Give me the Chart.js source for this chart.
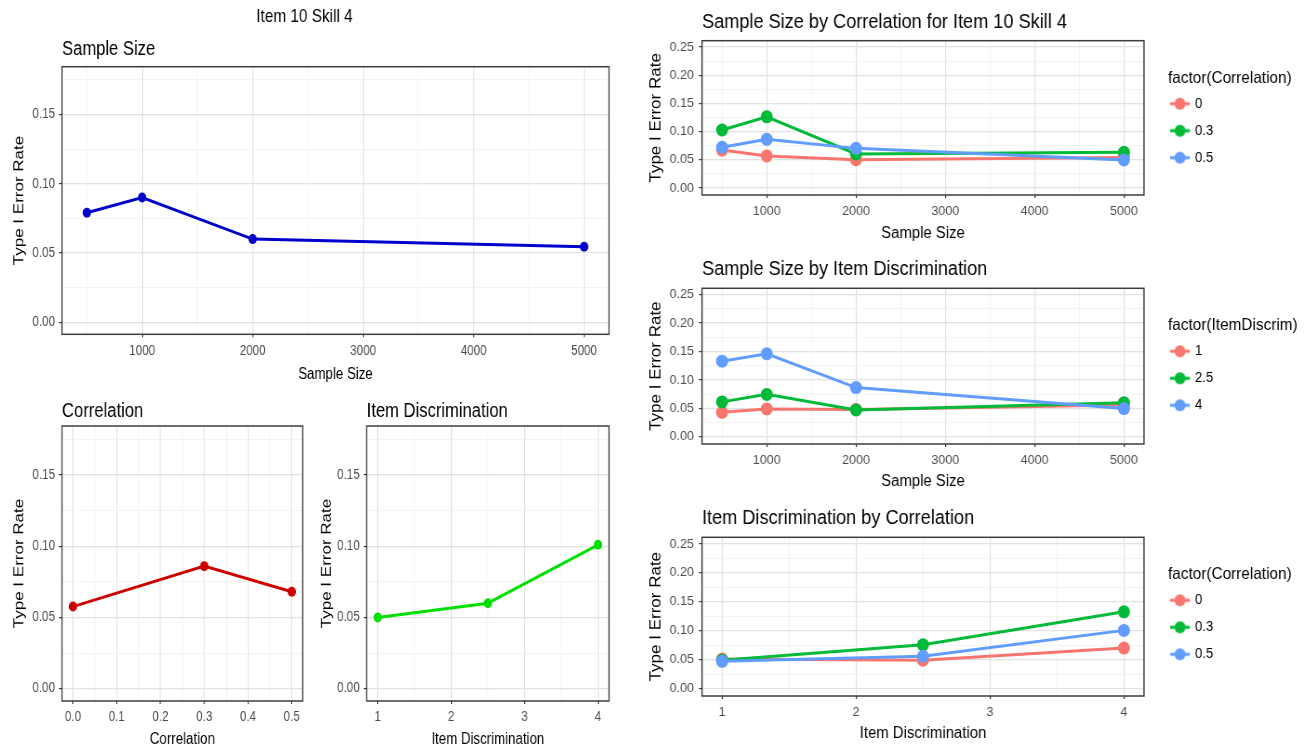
<!DOCTYPE html>
<html>
<head>
<meta charset="utf-8">
<title>Item 10 Skill 4 - Type I Error Rate</title>
<script src="https://cdn.jsdelivr.net/npm/chart.js@4.4.1/dist/chart.umd.min.js"></script>
<style>
  html, body { margin: 0; padding: 0; background: #fff; }
  #page { position: relative; width: 1305px; height: 750px; overflow: hidden; }
  #page canvas { position: absolute; }
</style>
</head>
<body>
<div id="page">
  <!-- backing stores are wider than the boxes: the plots are drawn slightly condensed -->
  <canvas id="sampleSize" width="754" height="390" style="left:0px;top:0px;width:626px;height:390px"></canvas>
  <canvas id="correlation" width="373" height="360" style="left:0px;top:390px;width:310px;height:360px"></canvas>
  <canvas id="itemDiscrim" width="381" height="360" style="left:310px;top:390px;width:316px;height:360px"></canvas>
  <canvas id="sizeByCorr" width="715" height="250" style="left:640px;top:0px;width:665px;height:250px"></canvas>
  <canvas id="sizeByDiscrim" width="715" height="250" style="left:640px;top:250px;width:665px;height:250px"></canvas>
  <canvas id="discrimByCorr" width="715" height="250" style="left:640px;top:500px;width:665px;height:250px"></canvas>
</div>
<script>
// design levels
const sampleSizes = [500, 1000, 2000, 5000];
const correlations = [0, 0.3, 0.5];
const itemDiscrims = [1, 2.5, 4];

// main effects on the Type I error rate
const errBySampleSize = [0.079, 0.090, 0.060, 0.0545];
const errByCorrelation = [0.0576, 0.086, 0.068];
const errByItemDiscrim = [0.050, 0.060, 0.101];

// sample size x correlation
const sizeCorr0 = [0.067, 0.0566, 0.050, 0.054];
const sizeCorr03 = [0.1026, 0.126, 0.060, 0.063];
const sizeCorr05 = [0.072, 0.086, 0.070, 0.0495];

// sample size x item discrimination
const sizeDiscrim1 = [0.043, 0.049, 0.048, 0.056];
const sizeDiscrim25 = [0.0613, 0.0745, 0.047, 0.060];
const sizeDiscrim4 = [0.133, 0.146, 0.0865, 0.0495];

// item discrimination x correlation
const discrimCorr0 = [0.051, 0.049, 0.070];
const discrimCorr03 = [0.049, 0.0756, 0.1326];
const discrimCorr05 = [0.047, 0.0558, 0.1005];

// labelled ticks and the minor grid lines between them
const sizeTicks = [1000, 2000, 3000, 4000, 5000];
const sizeMinor = [500, 1500, 2500, 3500, 4500];
const corrTicks = [0, 0.1, 0.2, 0.3, 0.4, 0.5];
const corrMinor = [0.05, 0.15, 0.25, 0.35, 0.45];
const discrimTicks = [1, 2, 3, 4];
const discrimMinor = [1.5, 2.5, 3.5];
const rateTicks = [0, 0.05, 0.10, 0.15];
const rateMinor = [0.025, 0.075, 0.125, 0.175];
const rateTicksWide = [0, 0.05, 0.10, 0.15, 0.20, 0.25];
const rateMinorWide = [0.025, 0.075, 0.125, 0.175, 0.225];

const FONT = "'Liberation Sans', Arial, sans-serif";
const RED = '#F8766D', GREEN = '#00BA38', BLUE = '#619CFF';

// dark frame around each plotting panel
const panelBox = {
  id: 'panelBox',
  afterDatasetsDraw(chart) {
    const a = chart.chartArea, g = chart.ctx;
    g.save();
    g.strokeStyle = '#3c3c3c';
    g.lineWidth = 1.5;
    g.strokeRect(a.left, a.top, a.right - a.left, a.bottom - a.top);
    g.restore();
  }
};
Chart.register(panelBox);

// keeps the legend in a fixed slot right of the panel
const legendSlot = {
  id: 'legendSlot',
  afterInit(chart, args, opts) {
    const lg = chart.legend;
    const fit = lg.fit;
    lg.fit = function () { fit.call(this); this.width = opts.reserve; };
  },
  afterLayout(chart, args, opts) {
    const lg = chart.legend;
    lg.left = chart.chartArea.right + opts.dx;
    lg.right = lg.left + 150;
    lg.top = chart.chartArea.top + opts.dy;
    lg.bottom = lg.top + 200;
  }
};

function tickList(main, minor) {
  return main.map(v => ({ value: v, main: true }))
    .concat(minor.map(v => ({ value: v, main: false })))
    .sort((a, b) => a.value - b.value);
}

// o.* sizes are in screen pixels; k is the horizontal squeeze of the canvas
function axis(o, k) {
  const ticks = tickList(o.main, o.minor);
  const horiz = o.position === 'bottom';
  const across = v => (horiz ? v : v / k);
  return {
    type: 'linear',
    position: o.position,
    bounds: 'data',
    min: o.min,
    max: o.max,
    afterBuildTicks: s => { s.ticks = ticks.map(t => ({ ...t })); },
    afterFit: s => { if (horiz) s.height = o.size; else s.width = o.size / k; },
    border: { display: false },
    grid: {
      color: c => (c.tick && c.tick.main ? '#E2E2E2' : '#F0F0F0'),
      lineWidth: c => (c.tick && c.tick.main ? 1.2 : 0.8),
      tickColor: c => (c.tick && c.tick.main ? '#333333' : 'rgba(0,0,0,0)'),
      tickLength: across(3),
      drawTicks: true
    },
    ticks: {
      autoSkip: false,
      maxRotation: 0,
      padding: across(o.tickPad),
      color: '#4D4D4D',
      font: { family: FONT, size: o.tickSize, lineHeight: 1.2 },
      callback: (v, i, all) => (all[i].main ? o.fmt(v) : '')
    },
    title: {
      display: true,
      text: o.title,
      color: '#000',
      font: { family: FONT, size: horiz ? 16 : 17, lineHeight: 1.2 },
      padding: horiz ? { top: 0, bottom: o.titlePad } : { top: o.titlePad / k, bottom: 0 }
    }
  };
}

function series(label, xs, ys, color, radius, order) {
  return {
    label: label,
    order: order,
    data: xs.map((x, i) => ({ x: x, y: ys[i] })),
    borderColor: color,
    backgroundColor: color,
    borderWidth: 3,
    pointRadius: radius,
    pointHoverRadius: radius,
    pointBorderWidth: 0,
    pointBackgroundColor: color,
    tension: 0,
    fill: false
  };
}

// line-and-dot key used in the legends (drawn off-centre so the key sits left of its slot)
function legendKey(color) {
  const c = document.createElement('canvas');
  c.width = 31;
  c.height = 14;
  const g = c.getContext('2d');
  g.strokeStyle = color;
  g.lineWidth = 3;
  g.beginPath(); g.moveTo(0, 7); g.lineTo(21.5, 7); g.stroke();
  g.fillStyle = color;
  g.beginPath(); g.arc(10.9, 7, 6, 0, Math.PI * 2); g.fill();
  return c;
}

function panelTitle(text, size, pt, pb) {
  return {
    display: true, text: text, align: 'start', fullSize: false, color: '#000',
    font: { family: FONT, size: size, weight: 'normal', lineHeight: 1.2 },
    padding: { top: pt, bottom: pb }
  };
}

function legendOpts(title) {
  return {
    display: true,
    position: 'right',
    align: 'start',
    title: {
      display: true, text: title, position: 'start', color: '#000',
      font: { family: FONT, size: 16.5, lineHeight: 1 },
      padding: { top: 0, bottom: -2.75 }
    },
    labels: {
      usePointStyle: true,
      pointStyleWidth: 9,
      padding: 13,
      color: '#000',
      font: { family: FONT, size: 14 },
      sort: (a, b) => a.datasetIndex - b.datasetIndex,
      generateLabels: chart => {
        const items = Chart.defaults.plugins.legend.labels.generateLabels(chart);
        items.forEach(it => { it.pointStyle = legendKey(chart.data.datasets[it.datasetIndex].borderColor); });
        return items;
      }
    }
  };
}

const fmt2 = v => v.toFixed(2);
const fmt1 = v => v.toFixed(1);
const fmt0 = v => String(v);

function makeChart(id, spec) {
  const canvas = document.getElementById(id);
  const k = parseFloat(canvas.style.width) / canvas.width;
  const plugins = Object.assign({ tooltip: { enabled: false }, legend: { display: false } }, spec.plugins);
  if (spec.slot) {
    plugins.legendSlot = { reserve: spec.slot.reserve / k, dx: spec.slot.dx / k, dy: spec.slot.dy };
  }
  return new Chart(canvas, {
    type: 'line',
    data: { datasets: spec.datasets },
    options: {
      responsive: false,
      animation: false,
      events: [],
      layout: { padding: { left: 0, top: 0, bottom: 0, right: (spec.padRight || 0) / k } },
      scales: { x: axis(spec.x, k), y: axis(spec.y, k) },
      plugins: plugins
    },
    plugins: spec.slot ? [legendSlot] : []
  });
}

const leftRate = { position: 'left', main: rateTicks, minor: rateMinor, min: -0.0087, max: 0.1844, fmt: fmt2, title: 'Type I Error Rate', tickSize: 14, tickPad: 4 };
const rightRate = { position: 'left', main: rateTicksWide, minor: rateMinorWide, min: -0.0128, max: 0.2612, fmt: fmt2, title: 'Type I Error Rate', tickSize: 13.5, tickPad: 5, size: 62, titlePad: 6.8 };

// overall sample size effect
makeChart('sampleSize', {
  datasets: [series('Sample Size', sampleSizes, errBySampleSize, '#0000CD', 5, 0)],
  x: { position: 'bottom', main: sizeTicks, minor: sizeMinor, min: 275, max: 5225, fmt: fmt0, title: 'Sample Size', tickSize: 14, size: 55.7, tickPad: 5, titlePad: 5.6 },
  y: Object.assign({}, leftRate, { size: 62, titlePad: 11 }),
  plugins: {
    title: { display: true, text: 'Item 10 Skill 4', align: 'center', color: '#000',
      font: { family: FONT, size: 18.5, weight: 'normal', lineHeight: 1.2 }, padding: { top: 5.9, bottom: 0 } },
    subtitle: panelTitle('Sample Size', 20, 9.1, 5.5)
  },
  padRight: 17
});

// correlation effect
makeChart('correlation', {
  datasets: [series('Correlation', correlations, errByCorrelation, '#CD0000', 5, 0)],
  x: { position: 'bottom', main: corrTicks, minor: corrMinor, min: -0.025, max: 0.525, fmt: fmt1, title: 'Correlation', tickSize: 14, size: 49, tickPad: 5, titlePad: 1 },
  y: Object.assign({}, leftRate, { size: 62, titlePad: 11 }),
  plugins: { title: panelTitle('Correlation', 20, 9, 3) },
  padRight: 7.3
});

// item discrimination effect
makeChart('itemDiscrim', {
  datasets: [series('Item Discrimination', itemDiscrims, errByItemDiscrim, '#00E000', 5, 0)],
  x: { position: 'bottom', main: discrimTicks, minor: discrimMinor, min: 0.85, max: 4.15, fmt: fmt0, title: 'Item Discrimination', tickSize: 14, size: 49, tickPad: 5, titlePad: 1 },
  y: Object.assign({}, leftRate, { size: 56.7, titlePad: 8.5 }),
  plugins: { title: panelTitle('Item Discrimination', 20, 9, 3) },
  padRight: 17
});

// interaction panels
const slot = { reserve: 161, dx: 24, dy: 29.25 };

makeChart('sizeByCorr', {
  datasets: [series('0', sampleSizes, sizeCorr0, RED, 6.5, 2),
             series('0.3', sampleSizes, sizeCorr03, GREEN, 6.5, 1),
             series('0.5', sampleSizes, sizeCorr05, BLUE, 6.5, 0)],
  x: { position: 'bottom', main: sizeTicks, minor: sizeMinor, min: 275, max: 5225, fmt: fmt0, title: 'Sample Size', tickSize: 13.5, size: 55, tickPad: 5, titlePad: 7 },
  y: rightRate,
  plugins: { title: panelTitle('Sample Size by Correlation for Item 10 Skill 4', 19.5, 10.5, 6.8),
             legend: legendOpts('factor(Correlation)') },
  slot: slot
});

makeChart('sizeByDiscrim', {
  datasets: [series('1', sampleSizes, sizeDiscrim1, RED, 6.5, 2),
             series('2.5', sampleSizes, sizeDiscrim25, GREEN, 6.5, 1),
             series('4', sampleSizes, sizeDiscrim4, BLUE, 6.5, 0)],
  x: { position: 'bottom', main: sizeTicks, minor: sizeMinor, min: 275, max: 5225, fmt: fmt0, title: 'Sample Size', tickSize: 13.5, size: 56, tickPad: 5, titlePad: 8.5 },
  y: rightRate,
  plugins: { title: panelTitle('Sample Size by Item Discrimination', 19.5, 8, 6.9),
             legend: legendOpts('factor(ItemDiscrim)') },
  slot: slot
});

makeChart('discrimByCorr', {
  datasets: [series('0', itemDiscrims, discrimCorr0, RED, 6.5, 2),
             series('0.3', itemDiscrims, discrimCorr03, GREEN, 6.5, 1),
             series('0.5', itemDiscrims, discrimCorr05, BLUE, 6.5, 0)],
  x: { position: 'bottom', main: discrimTicks, minor: discrimMinor, min: 0.85, max: 4.15, fmt: fmt0, title: 'Item Discrimination', tickSize: 13.5, size: 54, tickPad: 5, titlePad: 7 },
  y: rightRate,
  plugins: { title: panelTitle('Item Discrimination by Correlation', 19.5, 7, 6.9),
             legend: legendOpts('factor(Correlation)') },
  slot: slot
});
</script>
</body>
</html>
